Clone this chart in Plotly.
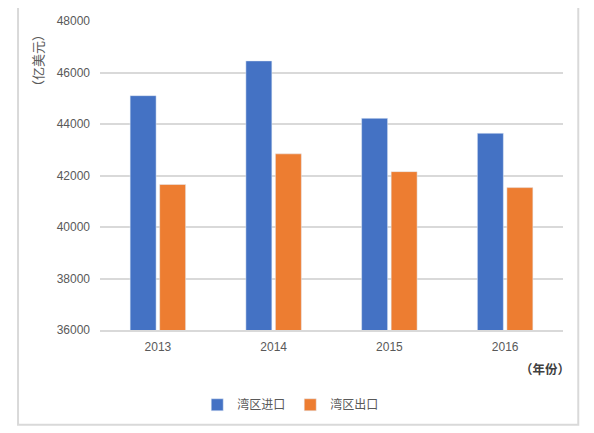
import plotly.graph_objects as go

years = ['2013', '2014', '2015', '2016']
imports = [45100, 46450, 44220, 43640]
exports = [41650, 42840, 42150, 41530]

blue = '#4472C4'
orange = '#ED7D31'
grid = '#D9D9D9'
cjk = 'Noto Sans CJK SC'

fig = go.Figure()
fig.add_trace(go.Bar(x=years, y=imports, name='湾区进口', marker_color=blue))
fig.add_trace(go.Bar(x=years, y=exports, name='湾区出口', marker_color=orange))

# page body has an 8px margin, so the figure is a little smaller than the window
fig.update_layout(
    width=586, height=425,
    margin=dict(l=92, r=30.5, t=12.5, b=103, autoexpand=False),
    paper_bgcolor='white', plot_bgcolor='white',
    barmode='group', bargap=0.49, bargroupgap=0.12,
    font=dict(family='Liberation Sans, Arial', size=12, color='#595959'),
    showlegend=True,
    legend=dict(orientation='h', x=0.21, y=-0.242, xanchor='left', yanchor='middle',
                font=dict(family=cjk, size=12, color='#595959'),
                itemwidth=30, entrywidth=48, tracegroupgap=0),
    xaxis=dict(showgrid=False, showline=True, linecolor=grid, linewidth=1.5,
               ticks='', ticklabelstandoff=5, tickfont=dict(size=12),
               automargin=False),
    yaxis=dict(range=[36000, 48000], dtick=2000, tickformat='d',
               showgrid=True, gridcolor=grid, gridwidth=1.5,
               zeroline=False, showline=False, ticks='',
               ticklabelstandoff=9, tickfont=dict(size=12), automargin=False),
    shapes=[dict(type='rect', xref='paper', yref='paper',
                 x0=-0.177, x1=1.033, y0=-0.307, y1=1.047,
                 line=dict(color=grid, width=2), fillcolor='rgba(0,0,0,0)',
                 layer='below')],
    annotations=[
        dict(text='（亿美元）', xref='paper', yref='paper', x=-0.135, y=0.872,
             xanchor='center', yanchor='middle', textangle=-90, showarrow=False,
             font=dict(family=cjk, size=13, color='#595959')),
        dict(text='<b>（年份）</b>', xref='paper', yref='paper', x=1.02, y=-0.123,
             xanchor='right', yanchor='middle', showarrow=False,
             font=dict(family=cjk, size=12.5, color='#404040')),
    ],
)

fig.write_html('out.html')
